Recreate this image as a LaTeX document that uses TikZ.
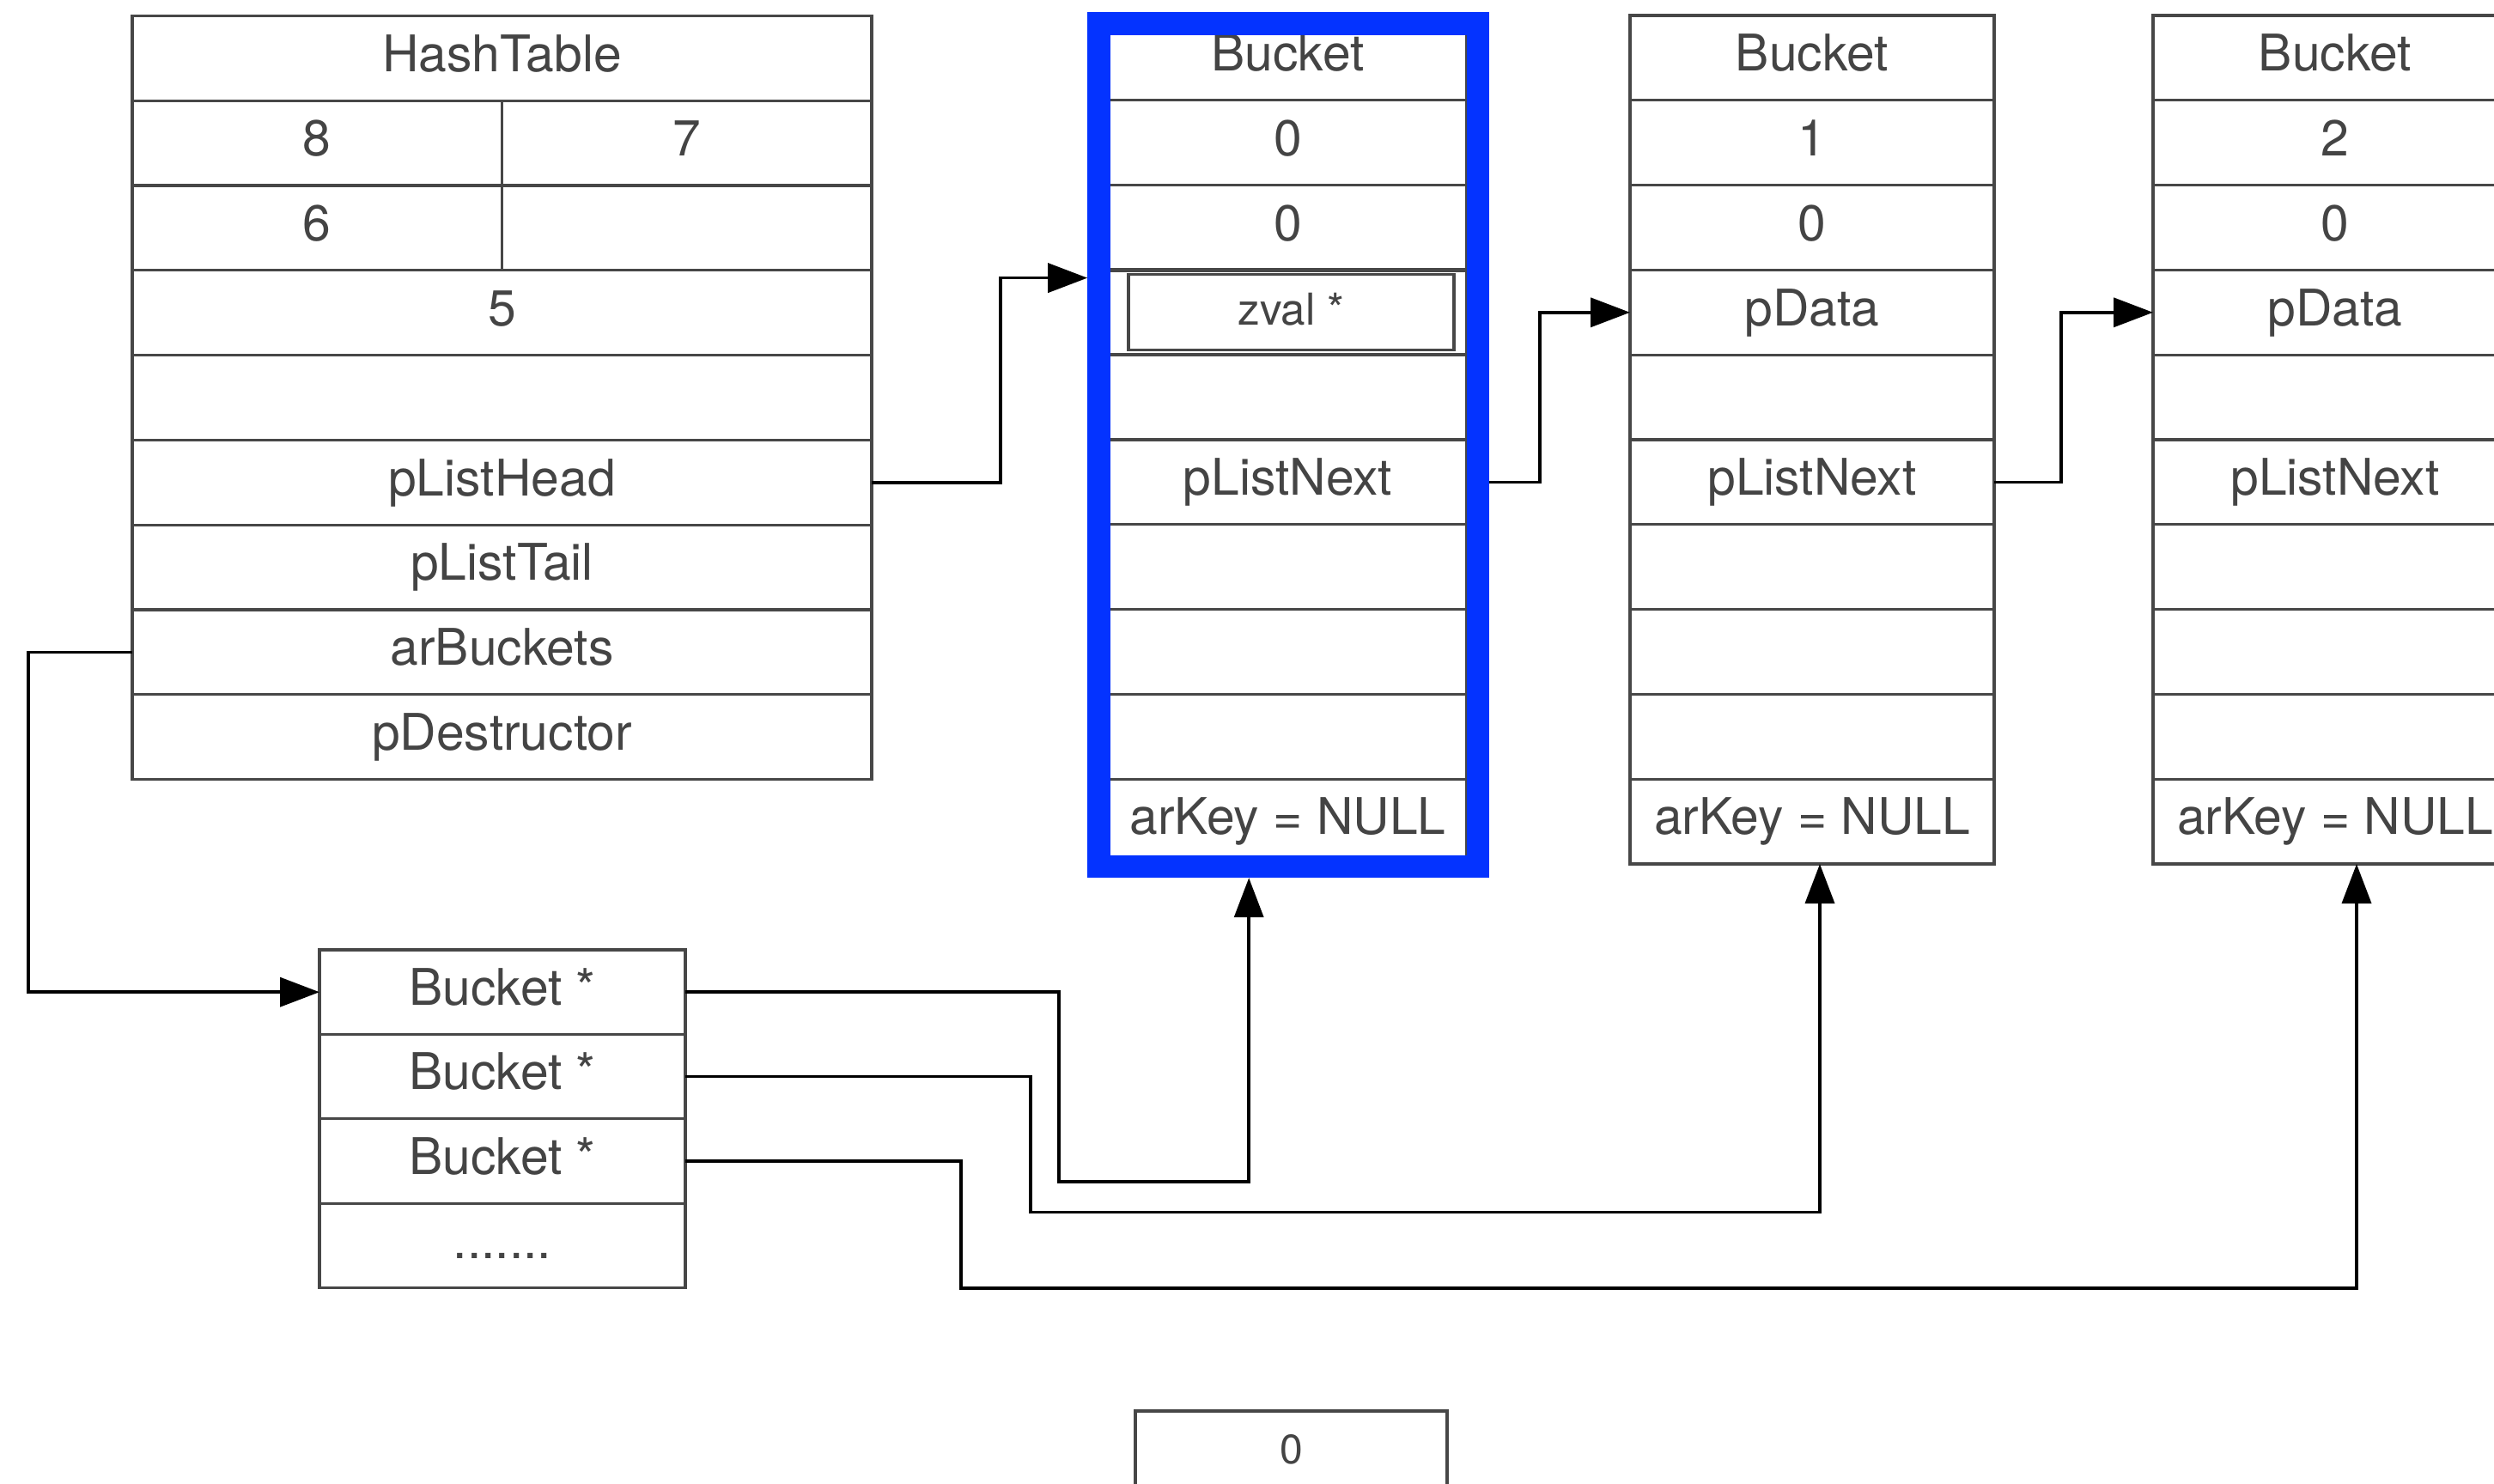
\documentclass[tikz,border=0pt]{standalone}
\usepackage{fontspec}
\setmainfont{TeX Gyre Heros}
\usetikzlibrary{arrows.meta,positioning,calc,fit}
\definecolor{linegray}{RGB}{71,71,71}
\definecolor{textgray}{RGB}{68,68,68}
\definecolor{frameblue}{RGB}{4,51,255}

\begin{document}
\begin{tikzpicture}[
  font=\fontsize{14.7}{17}\selectfont,
  arrow/.style={-{Triangle[length=11.5pt,width=8.5pt]}, draw=black, line width=0.9pt},
  cell/.style={draw=linegray, line width=0.8pt, text=textgray, outer sep=0pt, inner sep=0pt,
    minimum height=24.7pt, text height=10.5pt, text depth=2.9pt},
  htcell/.style={cell, minimum width=215.25pt},
  halfcell/.style={cell, minimum width=107.625pt},
  bucketA/.style={cell, minimum width=104.25pt},
  bucketB/.style={cell, minimum width=106pt},
  slotcell/.style={cell, minimum width=106.5pt, minimum height=24.6pt},
  zvalbox/.style={cell, minimum width=94.75pt, minimum height=22pt,
    font=\fontsize{12.8}{15}\selectfont, text height=9pt, text depth=1.6pt},
  blueframe/.style={draw=frameblue, line width=6.6pt, inner sep=0pt}
]

\useasboundingbox (0,0) rectangle (726pt,-431.75pt);
\clip (0,0) rectangle (726pt,-431.75pt);

% HashTable
\node[htcell, anchor=north west] (ht0) at (38.5pt,-4.6pt) {HashTable};
\node[halfcell, anchor=north west] (ht1a) at (ht0.south west) {8};
\node[halfcell, right=0pt of ht1a] (ht1b) {7};
\node[halfcell, below=0pt of ht1a] (ht2a) {6};
\node[halfcell, right=0pt of ht2a] (ht2b) {};
\node[htcell, anchor=north west] (ht3) at (ht2a.south west) {5};
\node[htcell, below=0pt of ht3] (ht4) {};
\node[htcell, below=0pt of ht4] (ht5) {pListHead};
\node[htcell, below=0pt of ht5] (ht6) {pListTail};
\node[htcell, below=0pt of ht6] (ht7) {arBuckets};
\node[htcell, below=0pt of ht7] (ht8) {pDestructor};

% Bucket 0
\node[bucketA, anchor=north west] (bA0) at (322.75pt,-4.5pt) {Bucket};
\node[bucketA, below=0pt of bA0] (bA1) {0};
\node[bucketA, below=0pt of bA1] (bA2) {0};
\node[bucketA, below=0pt of bA2, line width=1.1pt] (bA3) {};
\node[zvalbox] (zval) at ([xshift=1pt]bA3.center) {zval *};
\node[bucketA, below=0pt of bA3] (bA4) {};
\node[bucketA, below=0pt of bA4] (bA5) {pListNext};
\node[bucketA, below=0pt of bA5] (bA6) {};
\node[bucketA, below=0pt of bA6] (bA7) {};
\node[bucketA, below=0pt of bA7] (bA8) {};
\node[bucketA, below=0pt of bA8] (bA9) {arKey = NULL};

% Bucket 1
\node[bucketB, anchor=north west] (bB0) at (474.5pt,-4.5pt) {Bucket};
\node[bucketB, below=0pt of bB0] (bB1) {1};
\node[bucketB, below=0pt of bB1] (bB2) {0};
\node[bucketB, below=0pt of bB2] (bB3) {pData};
\node[bucketB, below=0pt of bB3] (bB4) {};
\node[bucketB, below=0pt of bB4] (bB5) {pListNext};
\node[bucketB, below=0pt of bB5] (bB6) {};
\node[bucketB, below=0pt of bB6] (bB7) {};
\node[bucketB, below=0pt of bB7] (bB8) {};
\node[bucketB, below=0pt of bB8] (bB9) {arKey = NULL};

% Bucket 2 (runs off the right edge)
\node[bucketB, anchor=north west] (bC0) at (626.75pt,-4.5pt) {Bucket};
\node[bucketB, below=0pt of bC0] (bC1) {2};
\node[bucketB, below=0pt of bC1] (bC2) {0};
\node[bucketB, below=0pt of bC2] (bC3) {pData};
\node[bucketB, below=0pt of bC3] (bC4) {};
\node[bucketB, below=0pt of bC4] (bC5) {pListNext};
\node[bucketB, below=0pt of bC5] (bC6) {};
\node[bucketB, below=0pt of bC6] (bC7) {};
\node[bucketB, below=0pt of bC7] (bC8) {};
\node[bucketB, below=0pt of bC8] (bC9) {arKey = NULL};

% arBuckets slots
\node[slotcell, anchor=north west] (ar0) at (93pt,-276.5pt) {Bucket *};
\node[slotcell, below=0pt of ar0] (ar1) {Bucket *};
\node[slotcell, below=0pt of ar1] (ar2) {Bucket *};
\node[slotcell, below=0pt of ar2] (ar3) {.......};

% lone box at the bottom
\node[cell, minimum width=90.75pt, minimum height=24.5pt, font=\fontsize{12}{14}\selectfont,
  text height=8.6pt, text depth=2.4pt, anchor=north west] (zero) at (330.5pt,-410.75pt) {0};

% highlight round the first bucket
\coordinate (fTL) at ($(bA0.north west)+(-2.9pt,-2.4pt)$);
\coordinate (fBR) at ($(bA9.south east)+(3.25pt,-0.75pt)$);
\node[blueframe, fit=(fTL)(fBR)] (frame) {};

% Arrows
\draw[arrow] (ht5.east) -- ++(37.5pt,0) |- ($(bA3.north -| frame.west)+(0,-2.3pt)$);
\draw[arrow] (bA5.center -| frame.east) -- ++(14.75pt,0) |- (bB3.west);
\draw[arrow] (bB5.east) -- ++(19.5pt,0) |- (bC3.west);

\draw[arrow] (ht7.west) -- ++(-30.25pt,0) |- (ar0.west);

\draw[arrow] (ar0.east) -- ++(108.75pt,0) -- ++(0,-55.25pt) -| ($(frame.south)+(-11.5pt,0)$);
\draw[arrow] (ar1.east) -- ++(100.5pt,0) -- ++(0,-39.5pt) -| ($(bB9.south)+(2.25pt,0)$);
\draw[arrow] (ar2.east) -- ++(80.25pt,0) -- ++(0,-37pt) -| ($(bC9.south)+(6.25pt,0)$);

\end{tikzpicture}
\end{document}
